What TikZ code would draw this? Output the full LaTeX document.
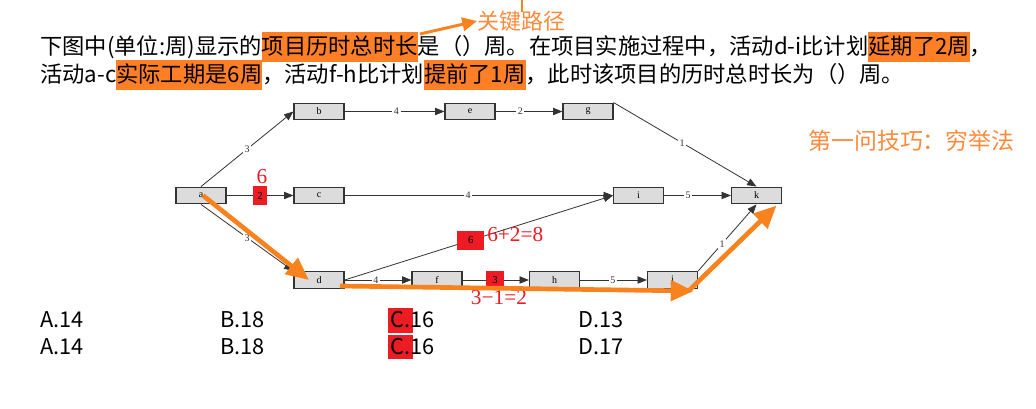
\documentclass[tikz,border=0pt]{standalone}
\usepackage{fontspec}
\setmainfont{Noto Sans CJK SC}
\newfontfamily\serifnum{Liberation Serif}
\newfontfamily\lblfont{Liberation Serif}
\usetikzlibrary{arrows.meta,calc}
\definecolor{hlor}{HTML}{FF7F27}
\definecolor{aror}{HTML}{F7821E}
\definecolor{txor}{HTML}{FF8A3D}
\definecolor{rd}{HTML}{ED1C24}
\definecolor{boxfill}{HTML}{DCDCDC}
\definecolor{edgec}{HTML}{333333}
\newcommand\hlbox[1]{{\setlength{\fboxsep}{0pt}\colorbox{hlor}{\rule[-5pt]{0pt}{22.5pt}#1}}}
\begin{document}
\begin{tikzpicture}[x=0.75pt,y=-0.75pt,
  box/.style={draw=black!80, line width=0.9pt, fill=boxfill, minimum width=37.5pt, minimum height=12.5pt, inner sep=0pt, font=\lblfont\fontsize{7.5}{7.5}\selectfont},
  edge/.style={draw=edgec, line width=0.6pt, -{Triangle[length=7pt,width=5.5pt]}},
  lbl/.style={fill=white, inner sep=1.2pt, font=\lblfont\fontsize{7.5}{7.5}\selectfont, text=edgec},
  rbox/.style={fill=rd, inner sep=0pt, minimum height=14pt, font=\lblfont\fontsize{8}{8}\selectfont, text=black},
  rtxt/.style={text=rd, font=\serifnum\fontsize{16}{16}\selectfont, inner sep=0pt},
  oarrow/.style={draw=aror, line width=3.5pt, -{Triangle[length=17pt,width=15pt]}},
  body/.style={font=\fontsize{16.7}{20}\selectfont, inner sep=0pt, anchor=base west},
  ans/.style={font=\fontsize{16.3}{18}\selectfont, inner sep=0pt, anchor=base west}
]
\useasboundingbox[fill=white] (0,0) rectangle (1036,409);

% question text
\node[body] (q1) at (40,55) {下图中(单位:周)显示的\hlbox{项目历时总时长}是（）周。在项目实施过程中，活动d-i比计划\hlbox{延期了2周}，};
\node[body] (q2) at (40,83) {活动a-c\hlbox{实际工期是6周}，活动f-h比计划\hlbox{提前了1周}，此时该项目的历时总时长为（）周。};

% annotation: key path
\node[text=txor, font=\fontsize{16.5}{20}\selectfont, inner sep=0pt, anchor=west] (kp) at (477,21) {关键路径};
\coordinate (kptail) at (420,34);
\draw[draw=aror, line width=2.2pt, -{Triangle[length=11pt,width=10pt]}] (kptail) -- (kp.west);
\coordinate (cur1) at (522,0);
\coordinate (cur2) at (522,12);
\draw[aror, line width=1.2pt] (cur1) -- (cur2);

\node[text=txor, font=\fontsize{17.2}{20}\selectfont, inner sep=0pt, anchor=west] (tip) at (808,141) {第一问技巧：穷举法};

% nodes
\node[box] (a) at (201,195.5) {a};
\node[box] (b) at (319,111.5) {b};
\node[box] (e) at (470,111.5) {e};
\node[box] (g) at (588,111.5) {g};
\node[box] (c) at (319,195.5) {c};
\node[box] (i) at (638.5,195.5) {i};
\node[box] (k) at (756.5,195.5) {k};
\node[box] (d) at (319,280) {d};
\node[box] (f) at (437,280) {f};
\node[box] (h) at (554.5,280) {h};
\node[box] (j) at (672.5,280) {j};

% edges
\draw[edge] (a.north) -- node[lbl, pos=0.5] {3} (b.west);
\draw[edge] (a.east) -- node[rbox, minimum width=11pt] {2} (c.west);
\draw[edge] (c.east) -- node[lbl, pos=0.46] {4} (i.west);
\draw[edge] (i.east) -- node[lbl, pos=0.36] {5} (k.west);
\draw[edge] (b.east) -- node[lbl, pos=0.52] {4} (e.west);
\draw[edge] (e.east) -- node[lbl, pos=0.37] {2} (g.west);
\draw[edge] (g.north east) -- node[lbl, pos=0.48] {1} (k.north);
\draw[edge] (a.south) -- node[lbl, pos=0.5] {3} (d.north west);
\draw[edge] (d.east) -- node[rbox, pos=0.47, minimum width=20pt] {6} (i.west);
\draw[edge] (d.east) -- node[lbl, pos=0.47] {4} (f.west);
\draw[edge] (f.east) -- node[rbox, pos=0.49, minimum width=14pt] {3} (h.west);
\draw[edge] (h.east) -- node[lbl, pos=0.49] {5} (j.west);
\draw[edge] (j.north east) -- node[lbl, pos=0.41] {1} (k.south);

% red annotations
\node[rtxt] (n6) at (262,177) {6};
\node[rtxt, anchor=west] (n8) at (487,235) {6+2=8};
\node[rtxt] (n2) at (499,298) {3−1=2};

% orange critical path arrows
\draw[oarrow] ($(a.center)+(2,0)$) -- ($(d.center)+(-10,0)$);
\draw[oarrow] ($(d.center)+(21,6)$) -- ($(j.center)+(21,11)$);
\draw[oarrow] ($(j.center)+(16,11)$) -- ($(k.center)+(20,10)$);

% answers
\fill[rd] (388,308) rectangle (413,333);
\fill[rd] (388,335) rectangle (413,359);
\node[ans] (a1) at (40,327.5) {A.14};
\node[ans] (b1) at (220,327.5) {B.18};
\node[ans] (c1) at (390,327.5) {C.16};
\node[ans] (d1) at (578,327.5) {D.13};
\node[ans] (a2) at (40,354.5) {A.14};
\node[ans] (b2) at (220,354.5) {B.18};
\node[ans] (c2) at (390,354.5) {C.16};
\node[ans] (d2) at (578,354.5) {D.17};
\end{tikzpicture}
\end{document}
